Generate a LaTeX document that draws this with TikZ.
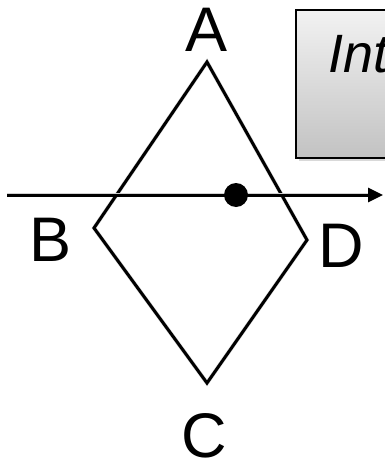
\documentclass[tikz,border=0pt]{standalone}
\usepackage{fontspec}
\setmainfont{Liberation Sans}
\usepackage{tikz}
\usetikzlibrary{arrows.meta, positioning, shadows}
\definecolor{boxtop}{HTML}{F2F2F2}
\definecolor{boxbot}{HTML}{C2C2C2}
\tikzset{
  edge/.style={line width=3pt, draw=black, line join=miter},
  shade/.style={line width=4pt, draw=black!18},
  vlab/.style={font=\fontsize{63}{70}\selectfont, inner sep=0pt},
  note/.style={rectangle, draw=black, line width=2pt, top color=boxtop, bottom color=boxbot,
    drop shadow={shadow xshift=3pt, shadow yshift=-3pt, opacity=0.3}},
  ray/.style={-{Triangle[length=15pt, width=14pt]}, line width=3pt},
}

\begin{document}
\begin{tikzpicture}[x=1pt, y=-1pt]
  \useasboundingbox (0,0) rectangle (385,463);
  \clip (0,0) rectangle (385,463);
  % note box, cut off at the right
  \node[note, minimum width=140pt, minimum height=148pt, anchor=north west] (box) at (295,9) {};
  \node[font=\fontsize{54}{60}\selectfont\itshape, anchor=base west, inner sep=0pt] (boxtxt) at (328,72) {Int};
  % rhombus
  \coordinate (a) at (207,62);
  \coordinate (b) at (94,228);
  \coordinate (c) at (207,383);
  \coordinate (d) at (307,240);
  \draw[shade, xshift=3pt, yshift=-3pt] (a) -- (b) -- (c) -- (d) -- cycle;
  \draw[edge] (a) -- (b) -- (c) -- (d) -- cycle;
  \node[vlab] (la) at (207,30) {A};
  \node[vlab] (lb) at (51,240) {B};
  \node[vlab] (lc) at (204,436) {C};
  \node[vlab] (ld) at (341,246) {D};
  % line through the point
  \coordinate (start) at (7,195);
  \coordinate (tip) at (383,195);
  \draw[shade, xshift=2pt, yshift=-3pt] (start) -- ([xshift=-12pt]tip);
  \draw[ray] (start) -- (tip);
  \node[circle, fill=black, minimum size=24pt, inner sep=0pt] (pt) at (236,195) {};
\end{tikzpicture}
\end{document}
